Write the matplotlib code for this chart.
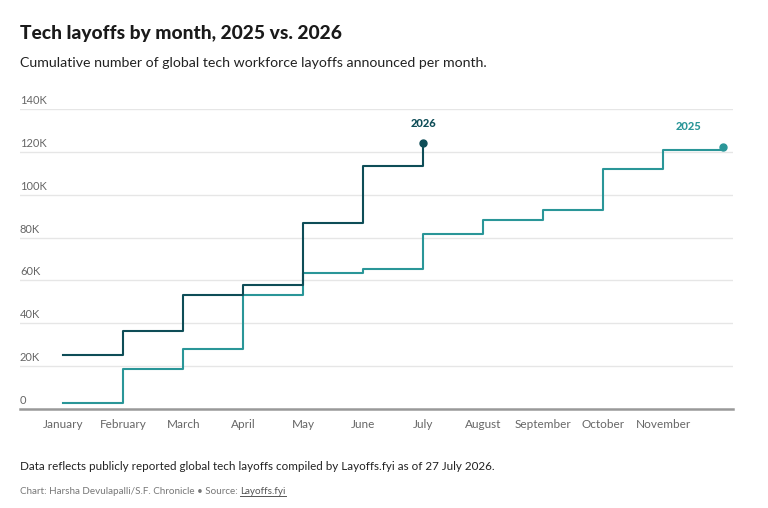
#!/usr/bin/env python3
"""
Cumulative tech layoffs by month, 2025 vs. 2026, drawn as step lines.
"""

import matplotlib
matplotlib.use("Agg")
import matplotlib.pyplot as plt
import matplotlib.transforms as mtransforms

# data (thousands of layoffs, cumulative)
month_labels = ["January", "February", "March", "April", "May", "June",
                "July", "August", "September", "October", "November"]
layoffs_2025 = [2.6, 18.9, 27.9, 53.0, 63.6, 65.3, 81.7, 88.4, 92.7,
                111.8, 120.8, 122.3]
layoffs_2026 = [25.1, 36.4, 53.0, 58.1, 87.0, 113.3, 124.2]
y_ticks = [0, 20, 40, 60, 80, 100, 120, 140]

COLOR_2025 = "#2a9698"
COLOR_2026 = "#0e4d57"
GRID_COLOR = "#e6e6e6"
TICK_COLOR = "#666666"

plt.rcParams["font.family"] = ["Lato", "DejaVu Sans"]

fig = plt.figure(figsize=(7.68, 5.08), dpi=100)
ax = fig.add_axes([20 / 768, 99 / 508, 713 / 768, 300 / 508])

x_2025 = list(range(len(layoffs_2025)))
x_2026 = list(range(len(layoffs_2026)))
ax.plot(x_2025, layoffs_2025, drawstyle="steps-post", color=COLOR_2025,
        linewidth=1.5, zorder=3)
ax.plot(x_2026, layoffs_2026, drawstyle="steps-post", color=COLOR_2026,
        linewidth=1.5, zorder=4)
ax.plot(x_2025[-1], layoffs_2025[-1], "o", color=COLOR_2025, markersize=5,
        zorder=5)
ax.plot(x_2026[-1], layoffs_2026[-1], "o", color=COLOR_2026, markersize=5,
        zorder=5)

ax.text(x_2026[-1], layoffs_2026[-1] + 6.5, "2026", color=COLOR_2026,
        fontsize=8, fontweight="black", ha="center", va="bottom")
ax.text(x_2025[-1] - 0.58, layoffs_2025[-1] + 7.0, "2025", color=COLOR_2025,
        fontsize=8, fontweight="black", ha="center", va="bottom")

ax.set_xlim(-0.72, 11.16)
ax.set_ylim(0, 140)

# gridlines and y labels sitting above them
for val in y_ticks[1:]:
    ax.axhline(val, color=GRID_COLOR, linewidth=1, zorder=1)
trans = mtransforms.blended_transform_factory(ax.transAxes, ax.transData)
offset = mtransforms.ScaledTranslation(0, 3 / 100, fig.dpi_scale_trans)
for val in y_ticks:
    label = "0" if val == 0 else "{v}K".format(v=val)
    ax.text(0.0, val, label, transform=trans + offset, color=TICK_COLOR,
            fontsize=8, ha="left", va="bottom")

ax.set_yticks([])
ax.set_xticks(range(len(month_labels)))
ax.set_xticklabels(month_labels, fontsize=8.5, color=TICK_COLOR)
ax.tick_params(axis="x", length=0, pad=7)
for side in ["top", "right", "left"]:
    ax.spines[side].set_visible(False)
ax.spines["bottom"].set_color("#999999")
ax.spines["bottom"].set_linewidth(1.8)
ax.spines["bottom"].set_zorder(6)

fig.text(20 / 768, 1 - 33 / 508, "Tech layoffs by month, 2025 vs. 2026",
         fontsize=13.8, fontweight="black", color="#1a1a1a", va="center")
fig.text(20 / 768, 1 - 63 / 508,
         "Cumulative number of global tech workforce layoffs announced per month.",
         fontsize=10.2, color="#222222", va="center")
fig.text(20 / 768, 1 - 466 / 508,
         "Data reflects publicly reported global tech layoffs compiled by "
         "Layoffs.fyi as of 27 July 2026.",
         fontsize=8.4, color="#222222", va="center")
credit = fig.text(20 / 768, 1 - 492 / 508,
                  "Chart: Harsha Devulapalli/S.F. Chronicle \u2022 Source: ",
                  fontsize=7.1, color="#777777", va="center")
fig.canvas.draw()
bbox = credit.get_window_extent()
src = fig.text(bbox.x1 / 768, 1 - 492 / 508, "Layoffs.fyi", fontsize=7.1,
               color="#555555", va="center")
fig.canvas.draw()
sb = src.get_window_extent()
fig.add_artist(plt.Line2D([sb.x0 / 768, sb.x1 / 768],
                          [(sb.y0 + 1) / 508, (sb.y0 + 1) / 508],
                          color="#555555", linewidth=0.7))

plt.savefig("out.png", dpi=100)
